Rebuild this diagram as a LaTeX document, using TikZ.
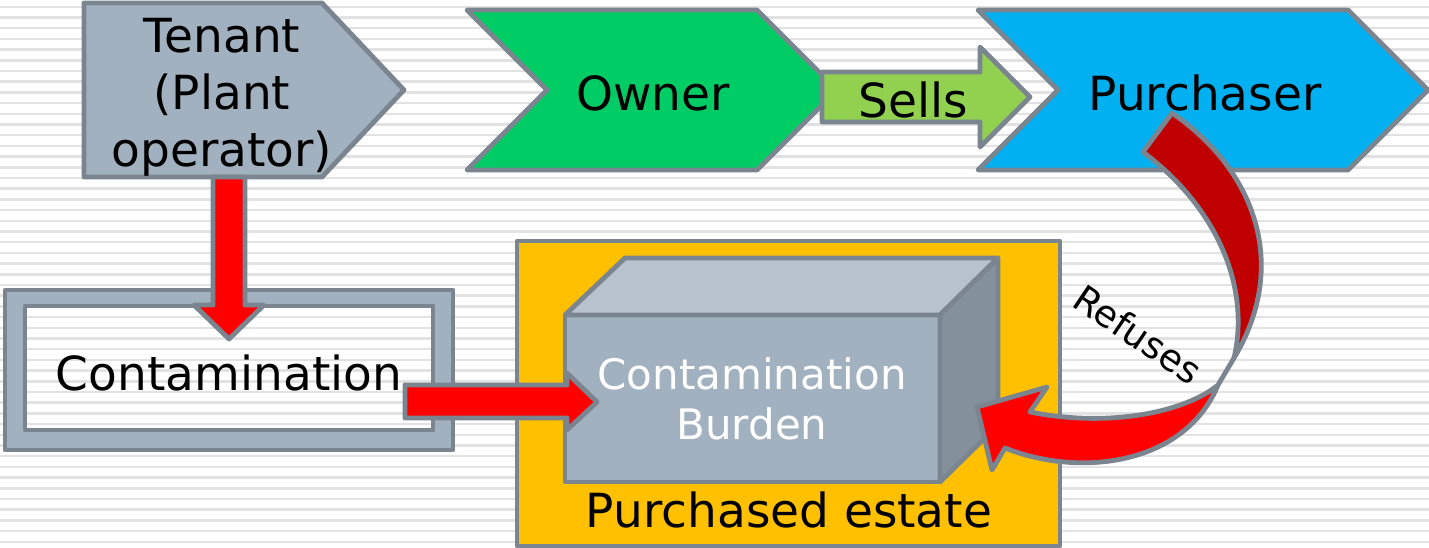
\documentclass[tikz,border=0pt]{standalone}
\usepackage{fontspec}
\setmainfont{DejaVu Sans}
\definecolor{linegray}{RGB}{123,133,144}
\definecolor{slate}{RGB}{162,177,192}
\definecolor{slatetop}{RGB}{183,194,206}
\definecolor{slateside}{RGB}{132,144,155}
\definecolor{ownergreen}{RGB}{0,204,102}
\definecolor{sellsgreen}{RGB}{146,208,80}
\definecolor{purchblue}{RGB}{0,176,240}
\definecolor{estate}{RGB}{255,192,0}
\definecolor{darkred}{RGB}{192,0,0}
\definecolor{stripe}{RGB}{226,226,226}
\begin{document}
\begin{tikzpicture}[x=1pt,y=-1pt,font=\fontsize{47}{57}\selectfont,line join=round,line cap=round]
					\tikzset{every node/.style={align=center,inner sep=0pt},
						block/.style={draw=linegray,line width=4.8pt}}
					\useasboundingbox (0,0) rectangle (1429,548);
					\begin{scope}
						\clip (0,0) rectangle (1429,548);
						\fill[white] (0,0) rectangle (1429,548);
						\foreach \k in {0,...,51}
						\draw[stripe,line width=2.5pt] (-5,6.8+10.7*\k)--(1434,6.8+10.7*\k);
					\end{scope}
					% parties
					\filldraw[block,fill=slate] (84,3)--(322,3)--(404,90)--(322,177)--(84,177)--cycle;
					\filldraw[block,fill=ownergreen] (467,10)--(757,10)--(837,90)--(757,170)--(467,170)--(547,90)--cycle;
					\filldraw[block,fill=purchblue] (978,10)--(1348,10)--(1428,90)--(1348,170)--(978,170)--(1058,90)--cycle;
					\filldraw[block,fill=slate,even odd rule] (5,290) rectangle (453,450) (25,306) rectangle (433,430);
					% estate and burden
					\filldraw[block,fill=estate] (517,241) rectangle (1060,546);
					\filldraw[block,fill=slate] (565,315) rectangle (940,482);
					\filldraw[block,fill=slatetop] (565,315)--(625,258)--(998,258)--(940,315)--cycle;
					\filldraw[block,fill=slateside] (940,315)--(998,258)--(998,425)--(940,482)--cycle;
					% arrows
					\filldraw[block,fill=red] (213,177)--(245,177)--(245,305)--(264,305)--(229,339)--(194,305)--(213,305)--cycle;
					\filldraw[block,fill=red] (405,385)--(567,385)--(567,373)--(597,402)--(567,430)--(567,418)--(405,418)--cycle;
					\filldraw[block,fill=sellsgreen] (822,72)--(980,72)--(980,47)--(1030,97)--(980,147)--(980,122)--(822,122)--cycle;
					\filldraw[block,fill=darkred] (1143,152)--(1172,113) .. controls (1255,170) and (1290,265) .. (1234,358) .. controls (1250,290) and (1220,210) .. (1143,152)--cycle;
					\filldraw[block,fill=red] (1234,358)--(1218,385) .. controls (1185,412) and (1110,428) .. (1030,412)--(1047,387)--(977,407)--(992,470)--(1005,448) .. controls (1080,478) and (1185,465) .. (1218,385)--cycle;
					% labels
					\node (tenant) at (222,97) {Tenant\\(Plant\\operator)};
					\node (owner) at (653,93) {Owner};
					\node (sells) at (913,100) {Sells};
					\node (purchaser) at (1205,93) {Purchaser};
					\node (contam) at (229,373) {Contamination};
					\node[white,font=\fontsize{42}{50}\selectfont] (burden) at (752,399) {Contamination\\Burden};
					\node (estate) at (789,510) {Purchased estate};
					\node[rotate=-34,font=\fontsize{37}{44}\selectfont] (refuses) at (1138,334) {Refuses};
			\end{tikzpicture}
\end{document}
